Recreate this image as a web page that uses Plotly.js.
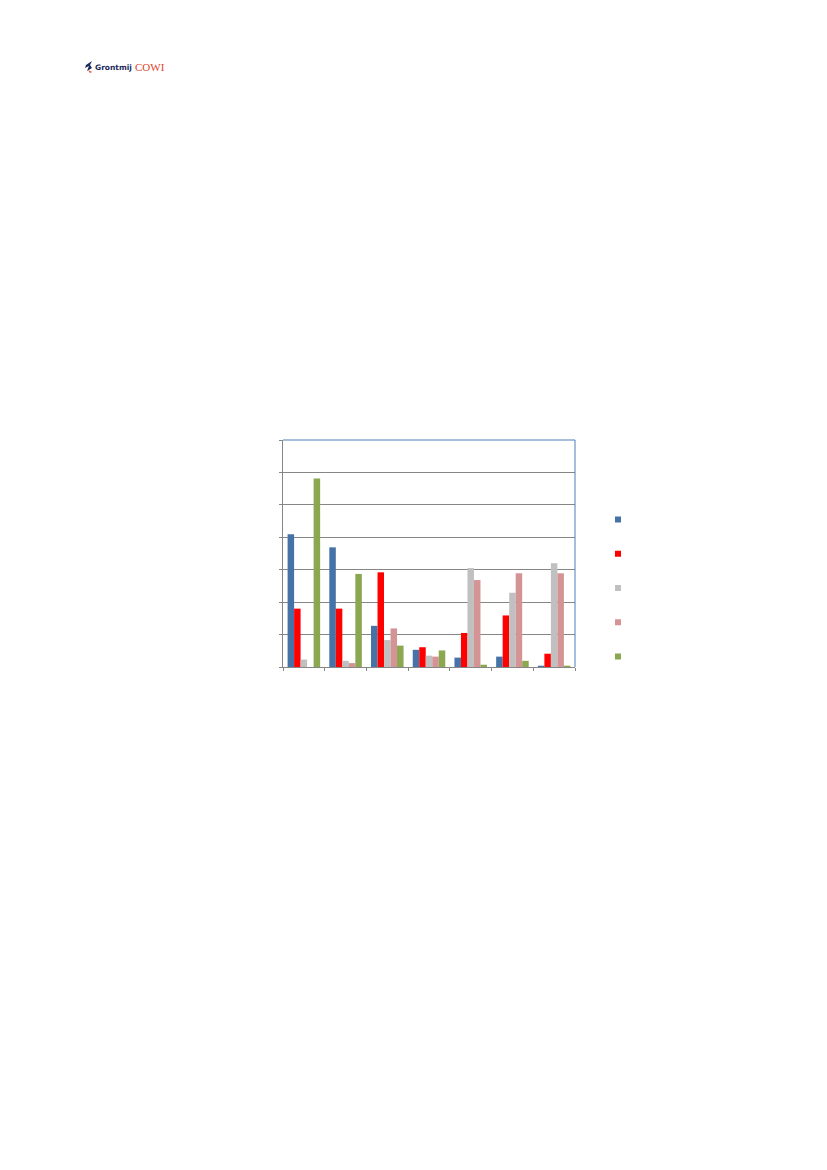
<!DOCTYPE html>
<html>
<head>
<meta charset="utf-8">
<script src="https://cdn.plot.ly/plotly-3.0.1.min.js"></script>
<style>
html,body{margin:0;padding:0;background:#fff;}
#chart{width:827px;height:1170px;}
</style>
</head>
<body>
<div id="chart"></div>
<script>
// Data (gridline units 0..7)
const categories = ["1", "2", "3", "4", "5", "6", "7"];
const seriesNames = ["Serie 1", "Serie 2", "Serie 3", "Serie 4", "Serie 5"];
const series1 = [4.09, 3.69, 1.27, 0.53, 0.29, 0.32, 0.04];
const series2 = [1.80, 1.80, 2.92, 0.61, 1.05, 1.59, 0.41];
const series3 = [0.23, 0.19, 0.83, 0.35, 3.05, 2.29, 3.20];
const series4 = [0.00, 0.12, 1.19, 0.32, 2.68, 2.89, 2.89];
const series5 = [5.81, 2.87, 0.66, 0.51, 0.07, 0.19, 0.04];
const colors = ["#4573A8", "#FF0000", "#C0C0C0", "#D49394", "#8BA74F"];

const allSeries = [series1, series2, series3, series4, series5];

const L = 283, R = 575, T = 440, B = 667;
const W = R - L, H = B - T;
const px = v => (v - L) / W;
const py = v => (B - v) / H;

const traces = [];
allSeries.forEach((vals, i) => {
  traces.push({
    type: "bar",
    x: categories,
    y: vals,
    name: seriesNames[i],
    marker: {color: colors[i], line: {width: 0}},
    showlegend: false,
    hoverinfo: "y"
  });
});
// legend entries (small squares, no text as in the reference)
allSeries.forEach((vals, i) => {
  traces.push({
    type: "scatter",
    mode: "markers",
    x: [null],
    y: [null],
    name: " ",
    marker: {color: colors[i], symbol: "square", size: 6},
    showlegend: true,
    hoverinfo: "skip"
  });
});

const layout = {
  width: 827,
  height: 1170,
  paper_bgcolor: "#ffffff",
  plot_bgcolor: "#ffffff",
  margin: {l: L, r: 827 - R, t: T, b: 1170 - B, pad: 0},
  barmode: "group",
  bargap: 0.22,
  bargroupgap: 0,
  font: {family: "Liberation Sans, Arial, sans-serif", size: 10, color: "#000"},
  xaxis: {
    type: "category",
    range: [-0.5, 6.5],
    tickson: "boundaries",
    ticks: "outside",
    ticklen: 3,
    tickcolor: "#868686",
    showticklabels: false,
    showgrid: false,
    showline: true,
    linecolor: "#868686",
    linewidth: 1,
    zeroline: false,
    fixedrange: true
  },
  yaxis: {
    range: [0, 7],
    dtick: 1,
    tick0: 0,
    ticks: "outside",
    ticklen: 3,
    tickcolor: "#868686",
    showticklabels: false,
    showgrid: true,
    gridcolor: "#868686",
    gridwidth: 1,
    showline: true,
    linecolor: "#868686",
    linewidth: 1,
    zeroline: false,
    fixedrange: true
  },
  legend: {
    x: px(598),
    xanchor: "left",
    y: py(588),
    yanchor: "middle",
    font: {size: 24},
    bgcolor: "rgba(0,0,0,0)",
    borderwidth: 0,
    itemsizing: "trace",
    tracegroupgap: 0
  },
  shapes: [
    {type: "line", xref: "paper", yref: "paper", x0: 0, x1: 1, y0: 1, y1: 1,
     line: {color: "#4A7EBB", width: 1}},
    {type: "line", xref: "paper", yref: "paper", x0: 1, x1: 1, y0: 0, y1: 1,
     line: {color: "#4A7EBB", width: 1}},
    // logo mark
    {type: "path", xref: "paper", yref: "paper",
     path: "M " + px(92) + "," + py(61) + " L " + px(86) + "," + py(65) + " L " + px(85) + "," + py(68) +
           " L " + px(89) + "," + py(66) + " L " + px(87) + "," + py(71) + " L " + px(92) + "," + py(68) +
           " L " + px(90) + "," + py(65) + " Z",
     fillcolor: "#1B2A5C", line: {width: 0}},
    {type: "path", xref: "paper", yref: "paper",
     path: "M " + px(88) + "," + py(70) + " L " + px(92) + "," + py(72) + " L " + px(90) + "," + py(73) + " Z",
     fillcolor: "#E0442A", line: {width: 0}}
  ],
  annotations: [
    {xref: "paper", yref: "paper", x: px(93), y: py(67.5), xanchor: "left", yanchor: "middle",
     text: "<b>Grontmij</b>", showarrow: false,
     font: {family: "DejaVu Sans, Liberation Sans, sans-serif", size: 7.5, color: "#1B2A5C"}},
    {xref: "paper", yref: "paper", x: px(133), y: py(67.5), xanchor: "left", yanchor: "middle",
     text: "COWI", showarrow: false,
     font: {family: "Liberation Serif, serif", size: 11, color: "#E0442A"}}
  ]
};

Plotly.newPlot("chart", traces, layout, {displayModeBar: false, staticPlot: true});
</script>
</body>
</html>
